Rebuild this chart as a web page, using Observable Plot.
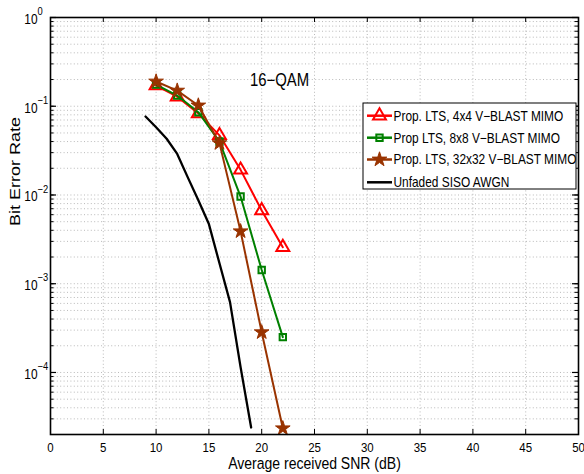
<!DOCTYPE html>
<html><head><meta charset="utf-8">
<script src="https://cdn.jsdelivr.net/npm/d3@7"></script>
<script src="https://cdn.jsdelivr.net/npm/@observablehq/plot@0.6"></script>
<style>body{margin:0;background:#fff;} svg{font-family:"Liberation Sans",Arial,sans-serif;}</style>
</head><body><div id="chart"></div>
<script>
// ---- data ----
const snr = [10, 12, 14, 16, 18, 20, 22];
const ber4x4 = [0.171, 0.128, 0.083, 0.047, 0.0192, 0.0067, 0.00258];
const ber8x8 = [0.175, 0.132, 0.0857, 0.040, 0.0096, 0.00143, 0.00025];
const ber32x32 = [0.19, 0.150, 0.102, 0.0384, 0.0039, 0.000284, 0.0000235];
const snrAwgn = [9, 10, 11, 12, 13, 14, 15, 16, 17, 18, 19];
const berAwgn = [0.0766, 0.058, 0.043, 0.029, 0.0158, 0.0087, 0.0047, 0.0017, 0.00062, 0.000115, 0.000024];

const seriesNames = ["Prop. LTS, 4x4 V\u2212BLAST MIMO", "Prop LTS, 8x8 V\u2212BLAST MIMO", "Prop. LTS, 32x32 V\u2212BLAST MIMO", "Unfaded SISO AWGN"];
const seriesColors = ["#ff0000", "#008000", "#993300", "#000000"];
const seriesSymbols = ["triangle", "square", "star", null];

const xTicks = [0, 5, 10, 15, 20, 25, 30, 35, 40, 45, 50];
const yExponents = [0, -1, -2, -3, -4];
const xLabel = "Average received SNR (dB)";
const yLabel = "Bit Error Rate";
const annotationText = ["16\u2212QAM"];
const annotationPos = {x: 18.9, y: 0.195};

// ---- build tables ----
const xs = [snr, snr, snr, snrAwgn];
const ys = [ber4x4, ber8x8, ber32x32, berAwgn];
const series = seriesNames.map((name, i) => ({
  name, color: seriesColors[i], symbol: seriesSymbols[i],
  rows: xs[i].map((x, j) => ({snr: x, ber: ys[i][j]}))
}));
const decades = yExponents.map(e => Math.pow(10, e));
const minor = [];
for (let e = -5; e < 0; e++) for (let m = 1; m <= 9; m++) {
  const v = m * Math.pow(10, e);
  if (v >= 2e-5 * 0.999 && v <= 1) minor.push(v);
}

const W = 584, H = 474, mL = 50, mR = 6, mT = 17, mB = 40;
const fw = W - mL - mR, fh = H - mT - mB;
const gridStyle = {stroke: "#a8a8a8", strokeWidth: 0.8, strokeDasharray: "1,2.4"};

const lineMarks = [];
[3, 0, 1, 2].forEach(i => {
  const s = series[i];
  lineMarks.push(Plot.line(s.rows, {x: "snr", y: "ber", stroke: s.color, strokeWidth: i === 3 ? 2.3 : 2}));
  if (s.symbol) {
    const filled = s.symbol === "star";
    lineMarks.push(Plot.dot(s.rows, {x: "snr", y: "ber", symbol: s.symbol,
      r: s.symbol === "triangle" ? 4.8 : s.symbol === "square" ? 3.6 : 4.6,
      stroke: s.color, strokeWidth: filled ? 1 : 2, fill: filled ? s.color : "none"}));
  }
});

const chart = Plot.plot({
  width: W, height: H,
  marginLeft: mL, marginRight: mR, marginTop: mT, marginBottom: mB,
  x: {domain: [0, 50], axis: null},
  y: {type: "log", domain: [2e-5, 1], axis: null},
  marks: [
    Plot.ruleX(xTicks.slice(1, -1), {x: d => d, ...gridStyle}),
    Plot.ruleY(minor.filter(v => v < 1 && v > 2.01e-5), {y: d => d, ...gridStyle}),
    Plot.ruleY(minor, {y: d => d, stroke: "black", strokeWidth: 1, insetRight: fw - 3.5}),
    Plot.ruleY(minor, {y: d => d, stroke: "black", strokeWidth: 1, insetLeft: fw - 3.5}),
    Plot.ruleY(decades, {y: d => d, stroke: "black", strokeWidth: 1.2, insetRight: fw - 6}),
    Plot.ruleY(decades, {y: d => d, stroke: "black", strokeWidth: 1.2, insetLeft: fw - 6}),
    Plot.ruleX(xTicks, {x: d => d, stroke: "black", strokeWidth: 1, insetTop: fh - 5}),
    Plot.ruleX(xTicks, {x: d => d, stroke: "black", strokeWidth: 1, insetBottom: fh - 5}),
    ...lineMarks,
    Plot.frame({stroke: "black", strokeWidth: 1.6}),
    Plot.text(xTicks, {x: d => d, frameAnchor: "bottom", lineAnchor: "middle", dy: 13, text: d => String(d), fontSize: 13.5, fill: "black"}),
    Plot.text(decades, {y: d => d, frameAnchor: "left", lineAnchor: "middle", dx: -13, dy: 2, text: () => "10", textAnchor: "end", fontSize: 14, fill: "black"}),
    Plot.text(yExponents, {y: e => Math.pow(10, e), frameAnchor: "left", lineAnchor: "middle", dx: -13, dy: -6,
      text: e => e === 0 ? "0" : "\u2212" + Math.abs(e), textAnchor: "start", fontSize: 11, fill: "black"}),
    Plot.text([xLabel], {frameAnchor: "bottom", lineAnchor: "middle", dy: 29, text: d => d, fontSize: 16.5, fill: "black"}),
    Plot.text([yLabel], {frameAnchor: "left", lineAnchor: "middle", dx: -35, rotate: -90, text: d => d, fontSize: 18, fill: "black"}),
    Plot.text(annotationText, {x: () => annotationPos.x, y: () => annotationPos.y, text: d => d, textAnchor: "start", lineAnchor: "middle", fontSize: 17.5, fill: "black"})
  ]
});
document.getElementById("chart").appendChild(chart);

// squeeze plot text horizontally to mimic the reference's narrow lettering
chart.querySelectorAll("g[aria-label='text'] text").forEach(t => {
  const tr = t.getAttribute("transform") || "";
  t.setAttribute("transform", tr + (/rotate/.test(tr) ? " scale(1,0.85)" : " scale(0.85,1)"));
});

// ---- legend (inside plot area, top right) ----
const svg = d3.select(chart);
const lg = svg.append("g").attr("class", "legend");
const box = {x: 363, y: 103, w: 213, h: 86};
lg.append("rect").attr("x", box.x).attr("y", box.y).attr("width", box.w).attr("height", box.h)
  .attr("fill", "white").attr("stroke", "black").attr("stroke-width", 1);
const rowY = [115.7, 137.7, 159.5, 182.3];
series.forEach((s, i) => {
  const y = rowY[i];
  lg.append("line").attr("x1", 367).attr("x2", 392).attr("y1", y).attr("y2", y)
    .attr("stroke", s.color).attr("stroke-width", 2.5);
  if (s.symbol) {
    const filled = s.symbol === "star";
    const r = s.symbol === "triangle" ? 4.8 : s.symbol === "square" ? 3.6 : 4.6;
    const sym = {triangle: d3.symbolTriangle, square: d3.symbolSquare, star: d3.symbolStar}[s.symbol];
    lg.append("path").attr("d", d3.symbol(sym, Math.PI * r * r)())
      .attr("transform", `translate(379.5,${y})`)
      .attr("fill", filled ? s.color : "none").attr("stroke", s.color).attr("stroke-width", filled ? 1 : 2);
  }
  lg.append("text").attr("transform", `translate(393.5,${y}) scale(0.85,1)`)
    .attr("text-anchor", "start").attr("dy", "0.35em").attr("font-size", 14).attr("fill", "black").text(s.name);
});
</script>
</body></html>
